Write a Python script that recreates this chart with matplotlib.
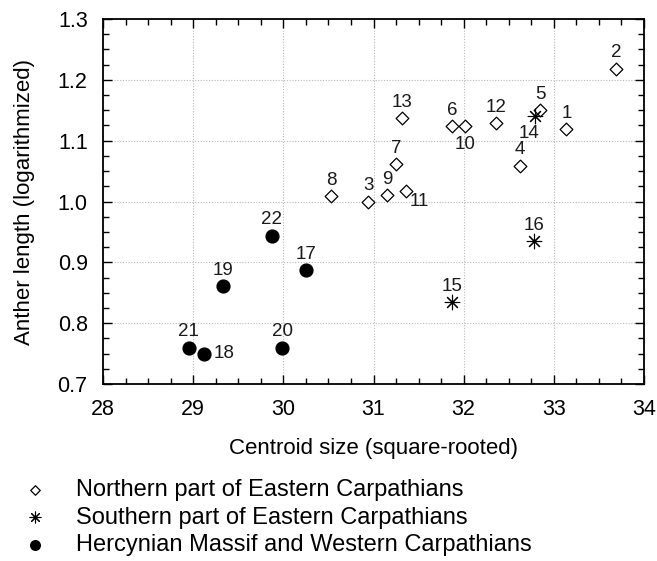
import matplotlib
matplotlib.use("Agg")
import matplotlib.pyplot as plt
from matplotlib.ticker import MultipleLocator

plt.rcParams['font.family'] = ['Liberation Sans', 'DejaVu Sans']

# Population means: centroid size (square-rooted) vs anther length (log)
north_ids = [1, 2, 3, 4, 5, 6, 7, 8, 9, 10, 11, 12, 13]
north_x = [33.14, 33.69, 30.94, 32.62, 32.85, 31.87, 31.25, 30.53, 31.15, 32.01, 31.36, 32.36, 31.32]
north_y = [1.119, 1.218, 1.000, 1.059, 1.150, 1.124, 1.061, 1.009, 1.010, 1.124, 1.018, 1.129, 1.137]

south_ids = [14, 15, 16]
south_x = [32.79, 31.87, 32.78]
south_y = [1.141, 0.834, 0.935]

herc_ids = [17, 18, 19, 20, 21, 22]
herc_x = [30.25, 29.12, 29.33, 29.99, 28.95, 29.87]
herc_y = [0.887, 0.750, 0.861, 0.760, 0.760, 0.944]

group_names = ["Northern part of Eastern Carpathians",
               "Southern part of Eastern Carpathians",
               "Hercynian Massif and Western Carpathians"]

x_label = "Centroid size (square-rooted)"
y_label = "Anther length (logarithmized)"

# label offsets in points (default: centred above the marker)
default_offset = (0, 11.5)
special_offsets = {10: (0, -13.5), 14: (-4, -12.5), 11: (9.5, -8), 18: (14.5, 0)}

fig = plt.figure(figsize=(6.57, 5.61), dpi=100)
ax = fig.add_axes([0.1568, 0.3155, 0.8234, 0.6506])

h1 = ax.scatter(north_x, north_y, marker='D', s=42, facecolors='white',
                edgecolors='black', linewidths=0.9, zorder=3)
h2 = ax.scatter(south_x, south_y, marker=(8, 2, 0), s=110, color='black',
                linewidths=0.8, zorder=3)
h3 = ax.scatter(herc_x, herc_y, marker='o', s=85, color='black', zorder=3)

for ids, xs, ys in [(north_ids, north_x, north_y),
                    (south_ids, south_x, south_y),
                    (herc_ids, herc_x, herc_y)]:
    for i, xv, yv in zip(ids, xs, ys):
        off = special_offsets.get(i, default_offset)
        ax.annotate(str(i), (xv, yv), xytext=off, textcoords='offset points',
                    ha='center', va='center', fontsize=13.5, color='#1a1a1a')

ax.set_xlim(28, 34)
ax.set_ylim(0.7, 1.3)
ax.xaxis.set_major_locator(MultipleLocator(1))
ax.xaxis.set_minor_locator(MultipleLocator(0.25))
ax.yaxis.set_major_locator(MultipleLocator(0.1))
ax.yaxis.set_minor_locator(MultipleLocator(0.025))
ax.yaxis.set_major_formatter(plt.FuncFormatter(lambda v, p: f"{v:.1f}"))

ax.tick_params(which='both', direction='in', top=True, right=True, colors='black')
ax.tick_params(which='major', length=6.5, width=1.0, labelsize=15.5, pad=11)
ax.tick_params(which='minor', length=4.5, width=1.0)
for sp in ax.spines.values():
    sp.set_linewidth(1.3)

ax.grid(True, which='major', linestyle=(0, (1, 1.5)), color='#b8b8b8', linewidth=0.8)
ax.set_axisbelow(True)

ax.set_xlabel(x_label, fontsize=16, labelpad=13)
ax.set_ylabel(y_label, fontsize=16, labelpad=16)

leg = fig.legend([h1, h2, h3], group_names, loc='upper left',
                 bbox_to_anchor=(0.003, 0.163), bbox_transform=fig.transFigure,
                 frameon=False, fontsize=17, handletextpad=0.75, labelspacing=0.24,
                 markerscale=0.75, borderaxespad=0, handlelength=2.0)

fig.savefig("out.png", dpi=100)
